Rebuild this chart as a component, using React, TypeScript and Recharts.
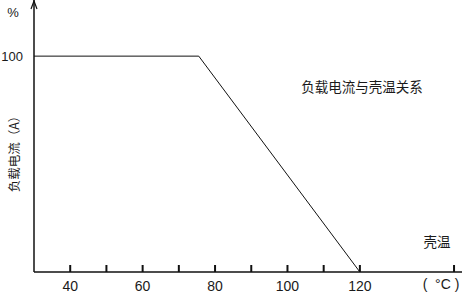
import React from 'react';
import { LineChart, Line, XAxis, YAxis } from 'recharts';

const temps = [30, 75.5, 120];
const loads = [100, 100, 0];
const xTicks = [40, 50, 60, 70, 80, 90, 100, 110, 120, 146];
const xLabelTicks = [40, 60, 80, 100, 120];
const yTicks = [100];

const data = temps.map((t, i) => ({ t, load: loads[i] }));

const numFont = '"Liberation Sans", Arial, sans-serif';
const cjkFont = '"Noto Sans CJK SC", "Noto Sans", sans-serif';

const XTick = (props: any) => {
  const { x, y, payload } = props;
  const v = payload.value;
  return (
    <g>
      <line x1={x} y1={y} x2={x} y2={y - 7} stroke="#111" strokeWidth={2} />
      {xLabelTicks.includes(v) && (
        <text x={x} y={y + 19} textAnchor="middle" fontSize={14} fontFamily={numFont} fill="#1a1a1a">
          {v}
        </text>
      )}
    </g>
  );
};

export default function App() {
  return (
    <div style={{ position: 'absolute', left: 0, top: 0, width: 462, height: 293, background: '#fff' }}>
      <LineChart width={462} height={293} data={data} margin={{ top: 0, right: 0, bottom: 0, left: 0 }}>
        <XAxis
          dataKey="t"
          type="number"
          domain={[30, 148.2]}
          ticks={xTicks}
          interval={0}
          height={21}
          tickSize={0}
          tickMargin={0}
          tickLine={false}
          axisLine={{ stroke: '#111', strokeWidth: 1.5 }}
          tick={<XTick />}
        />
        <YAxis
          type="number"
          domain={[0, 126]}
          ticks={yTicks}
          width={34}
          tickSize={0}
          tickMargin={11}
          tickLine={false}
          axisLine={{ stroke: '#111', strokeWidth: 1.5 }}
          tick={{ fontSize: 13, fontFamily: numFont, fill: '#1a1a1a' }}
        />
        <Line
          dataKey="load"
          stroke="#111"
          strokeWidth={1}
          dot={false}
          isAnimationActive={false}
        />
      </LineChart>
      <svg width={462} height={293} style={{ position: 'absolute', left: 0, top: 0, pointerEvents: 'none' }}>
        <polyline points="31,9 34,1 37,9" fill="none" stroke="#111" strokeWidth={1.2} />
        <text x={13} y={17} textAnchor="middle" fontSize={13} fontFamily={numFont} fill="#1a1a1a">%</text>
        <text x={362} y={92} textAnchor="middle" fontSize={13.5} fontFamily={cjkFont} fill="#1a1a1a">负载电流与壳温关系</text>
        <text x={437} y={247} textAnchor="middle" fontSize={13.5} fontFamily={cjkFont} fill="#1a1a1a">壳温</text>
        <text x={441} y={289} textAnchor="middle" fontSize={14} fontFamily={numFont} fill="#1a1a1a" xmlSpace="preserve">(  °C )</text>
        <text
          x={13}
          y={151}
          textAnchor="middle"
          dominantBaseline="central"
          fontSize={12.5}
          fontFamily={cjkFont}
          fill="#1a1a1a"
          transform="rotate(-90 13 151)"
        >
          负载电流（A）
        </text>
      </svg>
    </div>
  );
}
